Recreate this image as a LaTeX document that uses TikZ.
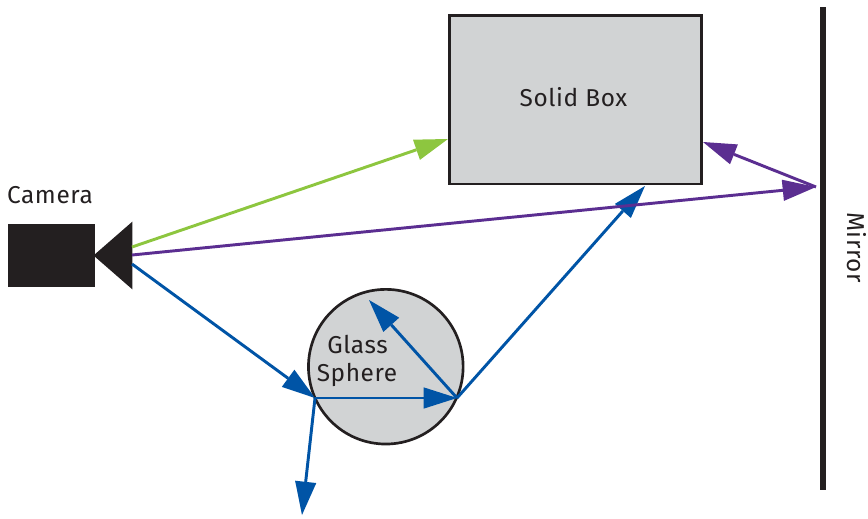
\documentclass[tikz,border=0pt]{standalone}
\usepackage{fontspec}
\setmainfont[LetterSpace=2.5]{Fira Sans}
\usetikzlibrary{arrows.meta}
\definecolor{ink}{HTML}{231F20}
\definecolor{fillgrey}{HTML}{D1D3D4}
\definecolor{rayblue}{HTML}{0054A6}
\definecolor{raygreen}{HTML}{8DC63F}
\definecolor{raypurple}{HTML}{5B2E91}
\tikzset{
  ray/.style={line width=2.2pt,-{Triangle[length=25pt,width=16pt,line width=0pt]}},
  solid/.style={draw=ink,fill=fillgrey,line width=2pt,inner sep=0pt,outer sep=0pt},
  lbl/.style={text=ink,font=\fontsize{18.3pt}{22pt}\selectfont,inner sep=0pt,align=center},
}
\begin{document}
\begin{tikzpicture}[x=0.75pt,y=-0.75pt]
\useasboundingbox (0,0) rectangle (868,518);
% shapes
\node[solid,minimum width=189pt,minimum height=126.5pt,anchor=north west] (box) at (449.2,15.2) {};
\node[solid,circle,minimum size=116pt,anchor=center] (sphere) at (385.8,366.7) {};
\node[fill=ink,inner sep=0pt,outer sep=0pt,minimum width=65pt,minimum height=46.8pt,anchor=north west] (body) at (8.3,224.3) {};
\coordinate (lensA) at (93.5,255.5);
\coordinate (lensB) at (132.3,221.7);
\coordinate (lensC) at (132.3,289.3);
\fill[ink] (lensA) -- (lensB) -- (lensC) -- cycle;
\coordinate (mirrorTop) at (822.8,7);
\coordinate (mirrorBot) at (822.8,490);
\draw[ink,line width=4.3pt] (mirrorTop) -- (mirrorBot);
% labels
\node[lbl] (solidlbl) at (573.5,97.5) {Solid Box};
\node[lbl] (camlbl) at (50,195.5) {Camera};
\node[lbl] (glasslbl) at (357.5,344.5) {Glass};
\node[lbl] (spherelbl) at (357,375) {Sphere};
\node[lbl,rotate=-90] (mirrorlbl) at (856.5,247.5) {Mirror};
% ray points
\coordinate (g0) at (132,247);
\coordinate (g1) at (448,139);
\coordinate (p0) at (132,255);
\coordinate (pm) at (816,187);
\coordinate (p1) at (703,142);
\coordinate (b0) at (132,264);
\coordinate (b1) at (315,398);
\coordinate (b2) at (457,398);
\coordinate (b3) at (645,186);
\coordinate (b4) at (369,300);
\coordinate (b5) at (302,515);
% rays
\draw[ray,rayblue] (b0) -- (b1);
\draw[ray,rayblue] (b1) -- (b2);
\draw[ray,rayblue] (b2) -- (b3);
\draw[ray,rayblue] (b2) -- (b4);
\draw[ray,rayblue] (b1) -- (b5);
\draw[ray,raygreen] (g0) -- (g1);
\draw[ray,raypurple] (p0) -- (pm);
\draw[ray,raypurple] (pm) -- (p1);
\end{tikzpicture}
\end{document}
